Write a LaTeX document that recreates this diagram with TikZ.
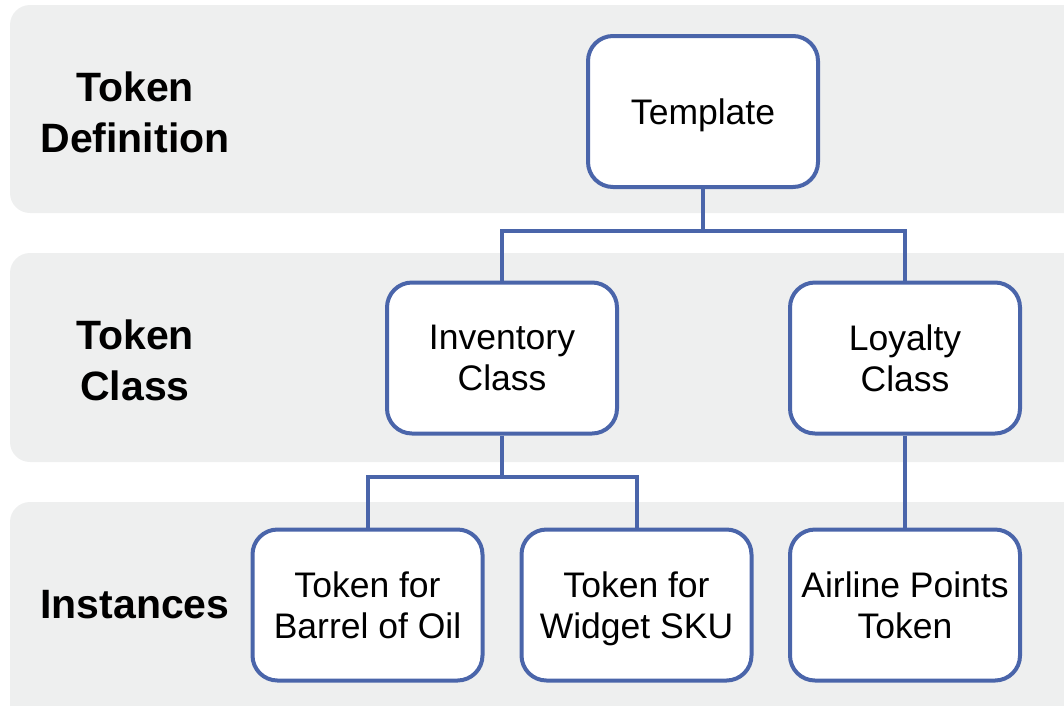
\documentclass[tikz,border=0pt]{standalone}
\usepackage{fontspec}
\setmainfont{Liberation Sans}
\definecolor{bandgray}{RGB}{238,239,239}
\definecolor{nodeblue}{RGB}{74,101,170}
\tikzset{
  band/.style={fill=bandgray, draw=none, rounded corners=20pt},
  box/.style={draw=nodeblue, line width=4pt, fill=white, rounded corners=25pt,
    minimum width=230pt, minimum height=151pt, align=center, inner sep=0pt,
    text depth=0pt, font=\fontsize{35.5}{40.5}\selectfont},
  head/.style={align=center, font=\fontsize{41}{51}\selectfont\bfseries},
  link/.style={draw=nodeblue, line width=4pt}
}
\begin{document}
\begin{tikzpicture}[x=1pt, y=-1pt]
\useasboundingbox (0,0) rectangle (1064,705);
\clip (0,0) rectangle (1064,705);
\fill[band] (10,5) rectangle (1090,213);
\fill[band] (10,253) rectangle (1090,462);
\fill[band] (10,502) rectangle (1090,725);

\node[head] (h1) at (135,112) {Token\\Definition};
\node[head] (h2) at (135,360) {Token\\Class};
\node[head] (h3) at (135,605) {Instances};

\node[box] (tmpl) at (703,111.5) {Template};
\node[box] (inv) at (502,358) {Inventory\\Class};
\node[box] (loy) at (905,358) {Loyalty\\Class};
\node[box] (oil) at (367.5,605) {Token for\\Barrel of Oil};
\node[box] (wid) at (636.5,605) {Token for\\Widget SKU};
\node[box] (air) at (905,605) {Airline Points\\Token};

\coordinate (j1) at (703,231);
\coordinate (j2) at (502,477);
\draw[link] (tmpl.south) -- (j1);
\draw[link] (j1) -| (inv.north);
\draw[link] (j1) -| (loy.north);
\draw[link] (inv.south) -- (j2);
\draw[link] (j2) -| (oil.north);
\draw[link] (j2) -| (wid.north);
\draw[link] (loy.south) -- (air.north);
\end{tikzpicture}
\end{document}
